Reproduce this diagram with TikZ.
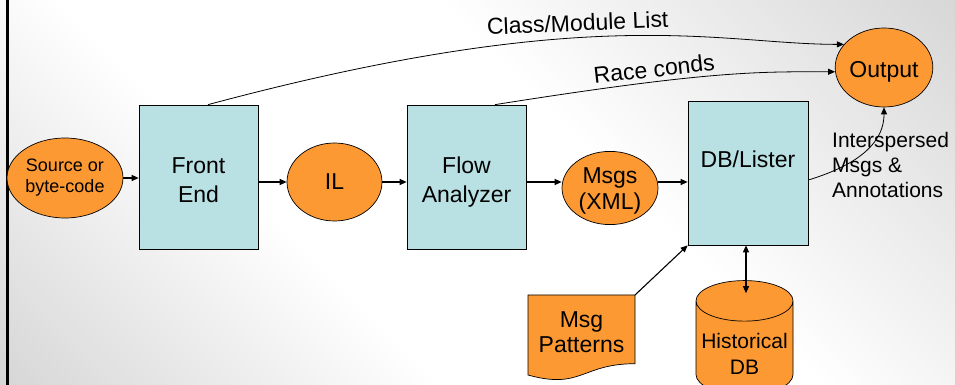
\documentclass[tikz,border=0pt]{standalone}
\usepackage{fontspec}
\setmainfont{Liberation Sans}
\usepackage{xcolor}
\usepackage{tikz}
\usetikzlibrary{calc, positioning, arrows.meta, shapes.geometric}

\definecolor{stageblue}{RGB}{185,224,227}
\definecolor{bloborange}{RGB}{253,153,51}
\pgfdeclarehorizontalshading{slideshade}{100bp}{color(0bp)=(black!26); color(38bp)=(white); color(58bp)=(white); color(100bp)=(black!24)}

\tikzset{
  stage/.style={draw, fill=stageblue, line width=0.7pt, minimum width=119pt, minimum height=144pt, inner sep=0pt, align=center, font=\fontsize{23}{29}\selectfont},
  blob/.style={ellipse, draw, fill=bloborange, line width=0.7pt, inner sep=0pt, align=center, font=\fontsize{23}{26}\selectfont},
  flow/.style={-{Triangle[length=7pt,width=6pt]}, line width=1.1pt},
  feed/.style={-{Triangle[length=7pt,width=6pt]}, line width=0.8pt},
  tag/.style={inner sep=0pt, font=\fontsize{23}{26}\selectfont}
}

\begin{document}
\begin{tikzpicture}[x=1pt, y=1pt]
        \clip (0,0) rectangle (955,385);
        \shade[shading=slideshade, shading angle=45] (0,0) rectangle (955,385);
        \draw[line width=2.6pt] (7.3,0) -- (7.3,385);

        % pipeline
        \node[blob, minimum width=116pt, minimum height=80pt, font=\fontsize{18}{21}\selectfont] (src) at (65,207) {Source or\\byte-code};
        \node[stage] (fe) at (198.5,208) {\rule{0pt}{22pt}Front\\End};
        \node[blob, minimum width=95pt, minimum height=78pt] (il) at (334.5,203) {IL};
        \node[stage] (fa) at (466.5,208) {\rule{0pt}{27pt}Flow\\Analyzer};
        \node[blob, minimum width=96pt, minimum height=68pt] (msgs) at (610,197) {\rule{0pt}{21pt}Msgs\\(XML)};
        \node[stage, minimum width=120pt, text height=17pt, text depth=27pt] (dbl) at (748,212) {DB/Lister};
        \node[blob, minimum width=96pt, minimum height=79pt, text height=26pt, text depth=5pt] (out) at (884,317.5) {Output};

        % inputs of the lister
        \draw[fill=bloborange, line width=0.7pt] (528,90) -- (635,90) -- (635,21.3) .. controls (581.5,21.3) and (581.5,-4.9) .. (528,10) -- cycle;
        \coordinate (patcorner) at (635,90);
        \node[tag, align=center, font=\fontsize{23}{25}\selectfont] (pat) at (581.5,53) {Msg\\Patterns};
        \node[cylinder, shape border rotate=90, aspect=0.47, draw, fill=bloborange, line width=0.7pt, minimum width=97pt, minimum height=86pt, inner sep=0pt, align=center, font=\fontsize{21}{26}\selectfont] (hdb) at (744.5,37) {\rule{0pt}{27pt}Historical\\DB};
        \coordinate (hdbtop) at ($(hdb.north)+(0,-13)$);

        \draw[flow] (src.east) -- (src.east -| fe.west);
        \draw[flow] (fe.east |- il.west) -- (il.west);
        \draw[flow] (il.east) -- (il.east -| fa.west);
        \draw[flow] (fa.east |- il.east) -- (msgs.west |- il.east);
        \draw[flow] (msgs.east |- il.east) -- (dbl.west |- il.east);
        \draw[flow] (patcorner) -- (dbl.south west);
        \draw[{Triangle[length=7pt,width=6pt]}-{Triangle[length=7pt,width=6pt]}, line width=1.1pt] ($(dbl.south)+(-2,0)$) -- (hdbtop -| {$(dbl.south)+(-2,0)$});

        % side outputs
        \draw[feed] ($(fe.north)+(9.5,0)$) to[out=15, in=180, out distance=400pt, in distance=125pt] (out.150);
        \node[tag, rotate=2.4, anchor=base] (cml) at (578,354) {Class/Module List};
        \draw[feed] ($(fa.north)+(28.5,0)$) to[out=9, in=180, out distance=220pt, in distance=76pt] (out.185);
        \node[tag, rotate=6.4, anchor=base] (race) at (655,308) {Race conds};
        \draw[feed] ($(dbl.east)+(0,-7)$) to[out=17, in=-90] (out.south);
        \node[tag, align=left, anchor=north west, font=\fontsize{21}{25}\selectfont] (ann) at (832,253) {Interspersed\\Msgs \&\\Annotations};
\end{tikzpicture}
\end{document}
